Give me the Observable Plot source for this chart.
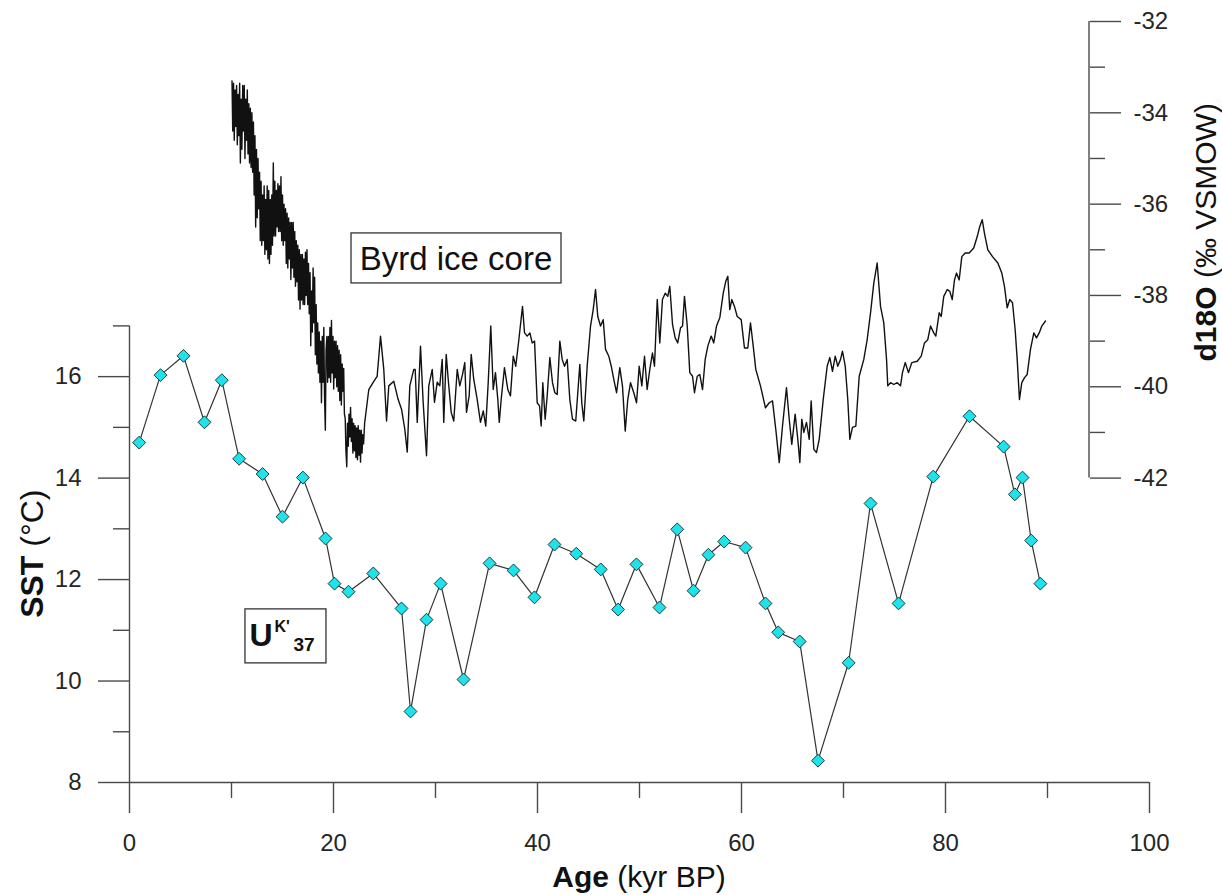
<!DOCTYPE html>
<html>
<head>
<meta charset="utf-8">
<script src="https://cdn.jsdelivr.net/npm/d3@7"></script>
<script src="https://cdn.jsdelivr.net/npm/@observablehq/plot@0.6"></script>
<style>
  html, body { margin: 0; padding: 0; background: #fff; }
</style>
</head>
<body>
<div id="chart"></div>
<script>
// ---------------- data ----------------
// U K'37 sea-surface temperature (age kyr BP, SST °C)
const sstAge = [0.95,3.04,5.29,7.35,9.05,10.75,13.05,15.0,17.0,19.22,
  20.1,21.47,23.9,26.67,27.55,29.12,30.5,32.75,35.3,37.65,
  39.7,41.67,43.8,46.2,47.9,49.7,51.96,53.7,55.3,56.76,
  58.3,60.4,62.35,63.6,65.7,67.5,70.5,72.65,75.4,78.8,
  82.35,85.7,86.8,87.55,88.4,89.3];
const sstValue = [14.70,16.03,16.41,15.10,15.93,14.38,14.08,13.24,14.01,12.81,
  11.92,11.76,12.12,11.43,9.40,11.21,11.92,10.03,12.32,12.18,
  11.65,12.69,12.51,12.20,11.41,12.30,11.45,12.99,11.78,12.49,
  12.75,12.63,11.53,10.96,10.78,8.43,10.36,13.50,11.53,14.03,
  15.22,14.62,13.68,14.01,12.77,11.92];

// Byrd ice core record: [age kyr BP, d18O permil VSMOW]
const byrdRecord = [
  [10.05,-33.30],[10.12,-34.40],[10.20,-33.35],[10.27,-34.60],[10.35,-33.50],[10.42,-34.30],
  [10.50,-33.40],[10.57,-34.70],[10.65,-33.60],[10.72,-34.50],[10.80,-33.35],[10.87,-35.10],
  [10.95,-33.70],[11.02,-34.80],[11.10,-33.40],[11.17,-34.40],[11.25,-33.40],[11.32,-35.00],
  [11.40,-33.70],[11.47,-34.60],[11.55,-33.50],[11.62,-34.90],[11.70,-33.80],[11.77,-35.10],
  [11.85,-33.90],[11.92,-35.20],[12.00,-34.00],[12.07,-35.30],[12.15,-34.20],[12.22,-35.80],
  [12.30,-34.50],[12.37,-36.50],[12.45,-34.80],[12.52,-36.30],[12.60,-35.00],[12.67,-36.10],
  [12.75,-35.30],[12.82,-36.80],[12.90,-35.50],[12.97,-36.90],[13.05,-35.80],[13.12,-36.80],
  [13.20,-35.60],[13.27,-37.10],[13.35,-35.90],[13.42,-37.00],[13.50,-35.60],[13.57,-37.20],
  [13.65,-35.70],[13.72,-37.30],[13.80,-35.90],[13.87,-37.10],[13.95,-35.80],[14.02,-36.90],
  [14.10,-35.10],[14.17,-36.70],[14.25,-35.50],[14.32,-36.70],[14.40,-35.70],[14.47,-36.50],
  [14.55,-35.55],[14.62,-36.60],[14.70,-35.60],[14.77,-36.60],[14.85,-35.40],[14.92,-36.80],
  [15.00,-35.80],[15.07,-36.90],[15.15,-36.00],[15.22,-36.80],[15.30,-36.10],[15.37,-37.30],
  [15.45,-36.20],[15.52,-37.40],[15.60,-36.30],[15.67,-37.20],[15.75,-36.40],[15.82,-37.65],
  [15.90,-36.40],[15.97,-37.40],[16.05,-36.40],[16.12,-37.60],[16.20,-36.60],[16.27,-37.80],
  [16.35,-36.80],[16.42,-37.70],[16.50,-36.90],[16.57,-38.10],[16.65,-37.00],[16.72,-38.30],
  [16.80,-37.10],[16.87,-38.10],[16.95,-37.10],[17.02,-38.20],[17.10,-37.20],[17.17,-38.20],
  [17.25,-37.05],[17.32,-38.00],[17.40,-37.00],[17.47,-38.20],[17.55,-37.30],[17.62,-38.40],
  [17.70,-37.50],[17.77,-39.10],[17.85,-37.90],[17.92,-38.80],[18.00,-37.40],[18.07,-38.60],
  [18.15,-37.60],[18.22,-39.30],[18.30,-38.20],[18.37,-39.50],[18.45,-38.60],[18.52,-39.70],
  [18.60,-38.80],[18.67,-39.90],[18.75,-39.00],[18.82,-40.35],[18.90,-38.90],[18.97,-39.90],
  [19.05,-38.70],[19.12,-40.20],[19.20,-40.95],[19.27,-39.20],[19.35,-38.90],[19.42,-39.90],
  [19.50,-38.90],[19.57,-39.80],[19.65,-38.70],[19.72,-39.90],[19.80,-38.55],[19.87,-39.70],
  [19.95,-38.90],[20.02,-40.05],[20.10,-39.00],[20.17,-39.80],[20.25,-39.00],[20.32,-40.00],
  [20.40,-39.10],[20.47,-40.10],[20.55,-39.20],[20.62,-40.30],[20.70,-39.30],[20.77,-40.40],
  [20.85,-39.50],[20.92,-40.10],[21.00,-39.60],[21.07,-40.60],[21.15,-40.70],[21.22,-41.40],
  [21.30,-41.75],[21.37,-40.80],[21.45,-41.30],[21.52,-40.60],[21.60,-41.10],[21.67,-40.45],
  [21.75,-41.20],[21.82,-40.70],[21.90,-41.45],[21.97,-40.80],[22.05,-41.40],[22.12,-40.85],
  [22.20,-41.55],[22.27,-40.90],[22.35,-41.60],[22.42,-40.85],[22.50,-41.50],[22.57,-40.95],
  [22.65,-41.65],[22.72,-40.95],[22.80,-41.45],[22.87,-41.05],[22.95,-41.25],[23.05,-40.80],
  [23.14,-40.64],[23.46,-40.06],[23.95,-39.88],[24.28,-39.77],[24.61,-38.89],[24.93,-39.62],
  [25.20,-40.75],[25.42,-39.98],[25.91,-39.88],[26.34,-40.28],[26.67,-40.49],[26.99,-40.93],
  [27.23,-41.43],[27.48,-39.98],[27.87,-39.62],[28.01,-39.62],[28.21,-40.78],[28.53,-39.11],
  [28.79,-40.34],[29.12,-41.51],[29.34,-39.98],[29.68,-39.62],[29.90,-40.34],[30.17,-39.90],
  [30.42,-39.98],[30.66,-39.40],[30.81,-40.78],[31.05,-39.29],[31.27,-39.90],[31.54,-40.56],
  [31.79,-40.75],[32.13,-39.62],[32.38,-39.98],[32.65,-39.73],[32.87,-39.47],[33.04,-40.56],
  [33.30,-40.20],[33.50,-39.29],[33.75,-39.84],[34.09,-40.28],[34.41,-40.78],[34.68,-40.53],
  [34.93,-40.86],[35.17,-39.90],[35.42,-38.67],[35.66,-40.06],[35.88,-39.69],[36.11,-40.28],
  [36.25,-40.78],[36.44,-40.28],[36.76,-39.58],[37.09,-40.06],[37.35,-40.20],[37.62,-39.33],
  [37.87,-39.55],[38.17,-38.97],[38.53,-38.24],[38.73,-38.82],[38.99,-38.89],[39.25,-38.82],
  [39.48,-39.04],[39.71,-39.00],[39.97,-40.35],[40.20,-40.42],[40.36,-40.86],[40.52,-39.91],
  [40.75,-40.71],[40.95,-40.20],[41.21,-39.36],[41.47,-39.91],[41.70,-40.13],[41.93,-40.17],
  [42.19,-39.00],[42.42,-39.40],[42.65,-39.55],[42.91,-39.40],[43.17,-40.28],[43.43,-40.71],
  [43.75,-40.75],[44.15,-39.51],[44.34,-40.35],[44.54,-40.75],[44.87,-39.55],[45.20,-38.67],
  [45.46,-38.31],[45.69,-37.87],[45.91,-38.46],[46.18,-38.67],[46.44,-38.53],[46.67,-39.18],
  [46.99,-39.33],[47.23,-39.55],[47.48,-39.84],[47.75,-40.13],[48.07,-39.58],[48.33,-39.98],
  [48.60,-40.97],[48.85,-40.28],[49.12,-39.91],[49.44,-40.13],[49.71,-40.35],[49.97,-39.55],
  [50.23,-39.98],[50.49,-39.33],[50.75,-40.06],[51.01,-39.62],[51.27,-39.26],[51.47,-39.55],
  [51.74,-38.09],[51.99,-39.04],[52.25,-38.09],[52.52,-37.95],[52.77,-38.02],[52.97,-37.80],
  [53.24,-38.64],[53.50,-38.93],[53.75,-39.04],[54.02,-38.71],[54.22,-38.67],[54.41,-38.02],
  [54.68,-38.67],[54.93,-39.69],[55.20,-39.77],[55.39,-40.13],[55.66,-39.77],[55.91,-39.73],
  [56.18,-40.06],[56.44,-39.40],[56.70,-39.11],[57.03,-38.89],[57.28,-39.04],[57.55,-38.67],
  [57.87,-38.49],[58.21,-37.95],[58.46,-37.69],[58.66,-37.58],[58.85,-38.31],[59.05,-38.09],
  [59.31,-38.24],[59.58,-38.46],[59.97,-38.53],[60.29,-39.15],[60.62,-39.15],[60.88,-38.60],
  [61.15,-39.11],[61.40,-39.62],[61.86,-39.98],[62.35,-40.46],[62.72,-40.35],[63.04,-40.31],
  [63.36,-40.93],[63.70,-41.66],[64.02,-40.86],[64.41,-40.02],[64.68,-40.71],[64.93,-41.26],
  [65.26,-40.60],[65.52,-41.15],[65.72,-41.66],[65.91,-40.71],[66.11,-41.00],[66.37,-40.78],
  [66.64,-41.15],[66.83,-40.31],[67.09,-41.37],[67.35,-41.44],[67.62,-41.15],[68.01,-40.28],
  [68.40,-39.55],[68.66,-39.36],[68.92,-39.66],[69.19,-39.33],[69.44,-39.55],[69.71,-39.40],
  [69.90,-39.22],[70.17,-39.55],[70.42,-40.28],[70.62,-41.15],[70.88,-40.89],[71.21,-40.86],
  [71.54,-39.77],[71.99,-39.40],[72.32,-38.97],[72.65,-38.38],[72.97,-37.73],[73.30,-37.29],
  [73.63,-38.24],[73.95,-38.60],[74.22,-39.40],[74.34,-39.98],[74.61,-39.91],[74.93,-39.95],
  [75.26,-39.91],[75.59,-39.98],[75.78,-39.69],[76.05,-39.47],[76.37,-39.69],[76.70,-39.47],
  [77.23,-39.44],[77.62,-39.33],[77.94,-39.04],[78.26,-38.97],[78.53,-38.67],[78.85,-38.82],
  [79.05,-38.89],[79.38,-38.38],[79.58,-38.46],[79.83,-38.02],[80.17,-37.87],[80.42,-37.91],
  [80.66,-38.09],[80.88,-37.66],[81.08,-37.51],[81.34,-37.66],[81.60,-37.15],[81.93,-37.07],
  [82.32,-37.07],[82.77,-36.96],[83.11,-36.71],[83.36,-36.49],[83.60,-36.34],[83.82,-36.64],
  [84.15,-37.00],[84.61,-37.15],[85.13,-37.29],[85.52,-37.51],[85.78,-37.80],[86.05,-38.27],
  [86.30,-38.09],[86.57,-38.16],[86.83,-38.75],[87.03,-39.40],[87.25,-40.28],[87.48,-39.91],
  [87.75,-39.80],[88.01,-39.73],[88.33,-39.18],[88.66,-38.82],[88.92,-38.93],[89.19,-38.82],
  [89.44,-38.67],[89.80,-38.56]
];

const ageTicks = [0, 20, 40, 60, 80, 100];
const ageMinorTicks = [10, 30, 50, 70, 90];
const sstTicks = [8, 10, 12, 14, 16];
const sstMinorTicks = [9, 11, 13, 15, 17];
const d18OTicks = [-32, -34, -36, -38, -40, -42];
const d18OMinorTicks = [-33, -35, -37, -39, -41];

// ---------------- twin-axis mapping ----------------
// the d18O axis (-42 .. -32) occupies the SST-equivalent band 14 .. 23
const D_LO = -42, D_HI = -32, S_LO = 14, S_HI = 23;
const toS = d => S_LO + (d - D_LO) * (S_HI - S_LO) / (D_HI - D_LO);
const fromS = s => D_LO + (s - S_LO) * (D_HI - D_LO) / (S_HI - S_LO);

const sst = sstAge.map((a, i) => ({age: a, v: sstValue[i]}));
const byrd = byrdRecord.map(([a, d]) => ({age: a, v: toS(d)}));

// ---------------- styles ----------------
const FONT = "'Liberation Sans', Arial, Helvetica, sans-serif";
const AXIS = "#4a4a4a";
const TEXT = "#262626";
const RIGHT_OFFSET = 60;   // right axis sits 60px inside the frame's right edge

function rightSpine(index, scales, values, dims) {
  const x = dims.width - dims.marginRight - RIGHT_OFFSET;
  return d3.create("svg:line")
    .attr("x1", x).attr("x2", x)
    .attr("y1", scales.y(toS(D_HI))).attr("y2", scales.y(toS(D_LO)))
    .attr("stroke", AXIS).attr("stroke-width", 1.4).node();
}

function titles(index, scales, values, dims) {
  const g = d3.create("svg:g").attr("font-family", FONT).attr("fill", "#111");
  const cx = (dims.marginLeft + dims.width - dims.marginRight) / 2;
  const t1 = g.append("text").attr("x", cx).attr("y", dims.height - 8)
    .attr("text-anchor", "middle").attr("font-size", 30);
  t1.append("tspan").attr("font-weight", "bold").text("Age");
  t1.append("tspan").text(" (kyr BP)");

  const cyL = (scales.y(8) + scales.y(17)) / 2;
  const t2 = g.append("text").attr("transform", `translate(43,${cyL}) rotate(-90)`)
    .attr("text-anchor", "middle").attr("font-size", 32);
  t2.append("tspan").attr("font-weight", "bold").text("SST");
  t2.append("tspan").text(" (°C)");

  const cyR = (scales.y(toS(D_HI)) + scales.y(toS(D_LO))) / 2 - 17;
  const t3 = g.append("text").attr("transform", `translate(${dims.width - 6},${cyR}) rotate(-90)`)
    .attr("text-anchor", "middle").attr("font-size", 30);
  t3.append("tspan").attr("font-weight", "bold").text("d18O");
  t3.append("tspan").text(" (‰ VSMOW)");
  return g.node();
}

function annotations(index, scales, values, dims) {
  const g = d3.create("svg:g").attr("font-family", FONT).attr("fill", "#111");
  // Byrd ice core label
  const bx = scales.x(32.06), by = scales.y(18.33);
  g.append("rect").attr("x", bx - 105).attr("y", by - 25).attr("width", 210).attr("height", 50)
    .attr("fill", "white").attr("stroke", "#333").attr("stroke-width", 1.3);
  g.append("text").attr("x", bx).attr("y", by + 12).attr("text-anchor", "middle")
    .attr("font-size", 33).text("Byrd ice core");
  // U K'37 label
  const ux = scales.x(15.34), uy = scales.y(10.88);
  g.append("rect").attr("x", ux - 40.5).attr("y", uy - 27).attr("width", 81).attr("height", 54)
    .attr("fill", "white").attr("stroke", "#333").attr("stroke-width", 1.3);
  g.append("text").attr("x", ux - 36).attr("y", uy + 10).attr("text-anchor", "start")
    .attr("font-weight", "bold").attr("font-size", 32).text("U");
  g.append("text").attr("x", ux - 11).attr("y", uy - 4).attr("text-anchor", "start")
    .attr("font-weight", "bold").attr("font-size", 16).text("K'");
  g.append("text").attr("x", ux + 8).attr("y", uy + 15).attr("text-anchor", "start")
    .attr("font-weight", "bold").attr("font-size", 19).text("37");
  return g.node();
}

const chart = Plot.plot({
  width: 1222,
  height: 895,
  marginLeft: 129,
  marginRight: 73,
  marginTop: 21,
  marginBottom: 113,
  style: {fontFamily: FONT, background: "#fff", color: TEXT, overflow: "visible"},
  x: {domain: [0, 100], axis: null},
  y: {domain: [8, 23], axis: null},
  marks: [
    // bottom axis
    Plot.ruleY([8], {stroke: AXIS, strokeWidth: 1.4}),
    Plot.axisX({ticks: ageTicks, tickSize: 31, tickPadding: 20, fontSize: 24,
      label: null, stroke: AXIS, fill: TEXT, strokeWidth: 1.4}),
    Plot.axisX({ticks: ageMinorTicks, tickSize: 16, tickFormat: () => "",
      label: null, stroke: AXIS, strokeWidth: 1.4}),
    // left SST axis
    Plot.ruleX([0], {y1: 8, y2: 17, stroke: AXIS, strokeWidth: 1.4}),
    Plot.axisY({ticks: sstTicks, tickSize: 31, tickPadding: 17, fontSize: 24,
      label: null, stroke: AXIS, fill: TEXT, strokeWidth: 1.4}),
    Plot.axisY({ticks: sstMinorTicks, tickSize: 16, tickFormat: () => "",
      label: null, stroke: AXIS, strokeWidth: 1.4}),
    // right d18O axis
    rightSpine,
    Plot.axisY({anchor: "right", ticks: d18OTicks.map(toS), tickSize: 31, tickPadding: 13,
      tickFormat: s => String(Math.round(fromS(s))), fontSize: 24, dx: -RIGHT_OFFSET,
      label: null, stroke: AXIS, fill: TEXT, strokeWidth: 1.4}),
    Plot.axisY({anchor: "right", ticks: d18OMinorTicks.map(toS), tickSize: 15,
      tickFormat: () => "", dx: -RIGHT_OFFSET, label: null, stroke: AXIS, strokeWidth: 1.4}),
    // data
    Plot.line(byrd, {x: "age", y: "v", stroke: "#111", strokeWidth: 1.4}),
    Plot.line(sst, {x: "age", y: "v", stroke: "#333", strokeWidth: 1.2}),
    Plot.dot(sst, {x: "age", y: "v", symbol: "diamond2", r: 5.8,
      fill: "#1fe3ea", stroke: "#1d3b3c", strokeWidth: 1}),
    annotations,
    titles
  ]
});
document.getElementById("chart").appendChild(chart);
</script>
</body>
</html>
